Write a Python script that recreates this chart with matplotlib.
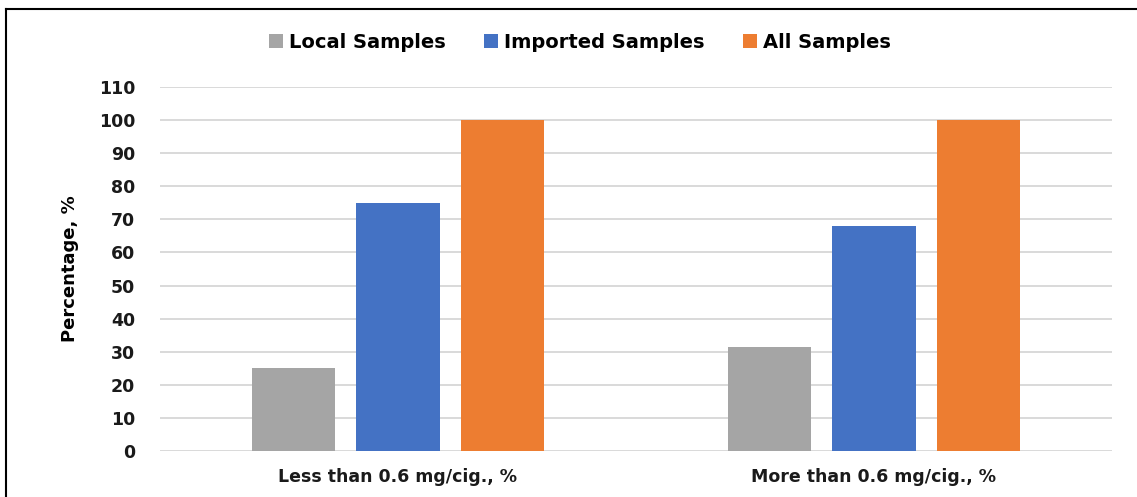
import matplotlib.pyplot as plt
from matplotlib.lines import Line2D
import numpy as np

categories = ['Less than 0.6 mg/cig., %', 'More than 0.6 mg/cig., %']
series_names = ['Local Samples', 'Imported Samples', 'All Samples']
local_samples = [25, 31.5]
imported_samples = [75, 68]
all_samples = [100, 100]
y_ticks = list(range(0, 111, 10))

colors = ['#A5A5A5', '#4472C4', '#ED7D31']
bar_width = 0.175
offsets = [-0.22, 0.0, 0.22]

fig = plt.figure(figsize=(11.37, 4.97), dpi=100)
ax = fig.add_axes([0.1407, 0.0926, 0.978 - 0.1407, 0.825 - 0.0926])

x = np.arange(len(categories))
for values, name, color, off in zip([local_samples, imported_samples, all_samples],
                                    series_names, colors, offsets):
    ax.bar(x + off, values, width=bar_width, color=color, label=name, zorder=3)

ax.set_xlim(-0.5, 1.5)
ax.set_ylim(0, 110)
ax.set_yticks(y_ticks)
ax.set_xticks(x)
ax.set_xticklabels(categories)
ax.yaxis.grid(True, color='#D9D9D9', linewidth=1.4, zorder=0)
ax.set_axisbelow(True)
for side in ['top', 'right', 'left', 'bottom']:
    ax.spines[side].set_visible(False)
ax.tick_params(axis='both', length=0, labelsize=12.5, colors='#1a1a1a')
ax.tick_params(axis='y', pad=18)
ax.tick_params(axis='x', pad=12)
for lbl in ax.get_xticklabels() + ax.get_yticklabels():
    lbl.set_fontweight('bold')

ax.set_ylabel('Percentage, %', fontsize=13, fontweight='bold', labelpad=14)

leg = fig.legend(loc='center', bbox_to_anchor=(0.51, 0.915), ncol=3, frameon=False,
                 prop={'size': 14, 'weight': 'bold'},
                 handlelength=0.7, handleheight=0.7, handletextpad=0.3, columnspacing=2.0)

# frame lines along the top and left edge of the figure
fig.add_artist(Line2D([6 / 1137, 6 / 1137], [0, 1 - 9 / 497], transform=fig.transFigure,
                      color='black', linewidth=1.5))
fig.add_artist(Line2D([6 / 1137, 1], [1 - 9 / 497, 1 - 9 / 497], transform=fig.transFigure,
                      color='black', linewidth=1.5))

fig.savefig('out.png', dpi=100)
